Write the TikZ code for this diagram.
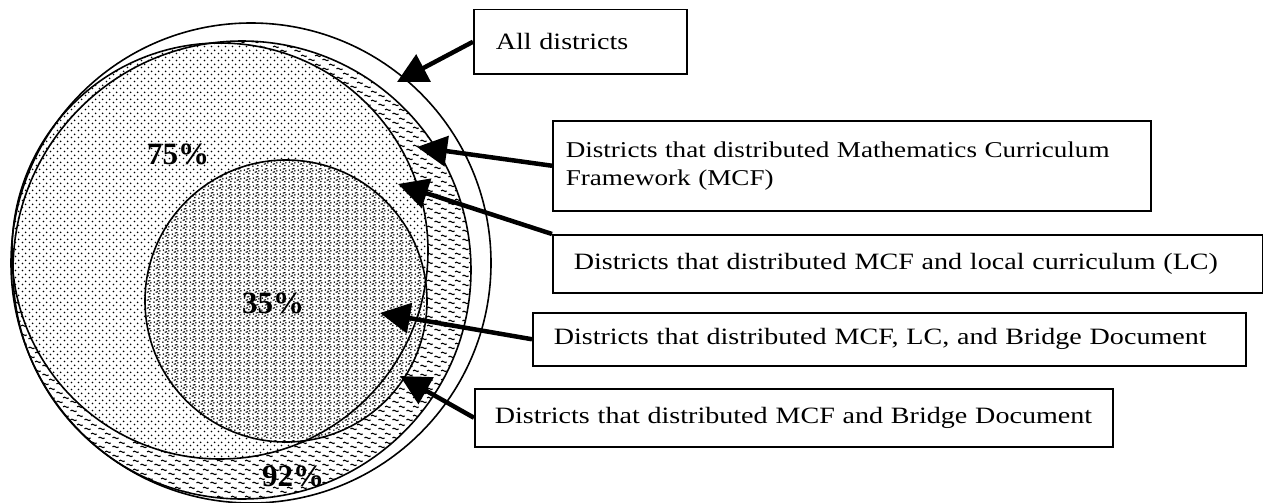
\documentclass[tikz,border=0pt]{standalone}
\usepackage{fontspec}
\setmainfont[FakeStretch=1.2]{Liberation Serif}
\newfontfamily\pctfont{Liberation Serif}
\usetikzlibrary{arrows.meta,patterns.meta}

\tikzdeclarepattern{name=wavelets,type=uncolored,
 bottom left={(0pt,0pt)},top right={(14pt,9pt)},tile size={(14pt,9pt)},
 code={\draw[line width=1.2pt] (.5pt,2.3pt) .. controls (2.5pt,5pt) and (5pt,-.4pt) .. (7pt,2.3pt);
  \draw[line width=1.2pt] (7.5pt,6.8pt) .. controls (9.5pt,9.5pt) and (12pt,4.1pt) .. (13.5pt,6.8pt);}}
\tikzdeclarepattern{name=dotgrid,type=uncolored,
 bottom left={(0pt,0pt)},top right={(7pt,7pt)},tile size={(7pt,7pt)},
 code={\fill (1.75pt,1.75pt) circle (1.05pt); \fill (5.25pt,5.25pt) circle (1.05pt);}}
\tikzdeclarepattern{name=grains,type=uncolored,
 bottom left={(0pt,0pt)},top right={(9pt,8pt)},tile size={(9pt,8pt)},
 code={\fill (1pt,1pt) circle (.95pt); \fill (6.5pt,1.5pt) circle (.9pt);
  \fill (1.5pt,5.5pt) circle (.9pt); \fill (7.6pt,4.6pt) circle (.9pt);
  \draw[line width=1.2pt] (3pt,3pt) -- (5.6pt,3.7pt);
  \draw[line width=1.2pt] (4.2pt,6.6pt) -- (7.2pt,7.2pt);}}

\begin{document}
\begin{tikzpicture}[x=1pt,y=-1pt,font=\fontsize{23.4}{28}\selectfont,
 ring/.style={line width=1.6pt},
 box/.style={draw,line width=1.5pt,anchor=north west,align=left,inner ysep=0pt},
 pct/.style={font=\pctfont\fontsize{31}{34}\selectfont\bfseries},
 callout/.style={line width=4.5pt,-{Triangle[length=30pt,width=30pt]}}]
\useasboundingbox (0,0) rectangle (1263,503);
\coordinate (allc) at (251,263);
\coordinate (mcfc) at (242,270);
\coordinate (lcc) at (220,251);
\coordinate (brc) at (286,301);
% shaded regions
\fill[pattern=wavelets] (mcfc) circle[radius=229pt];
\fill[white] (lcc) circle[radius=208pt];
\fill[pattern=dotgrid] (lcc) circle[radius=208pt];
\fill[white] (brc) circle[radius=141pt];
\fill[pattern=grains] (brc) circle[radius=141pt];
\draw[ring] (allc) circle[radius=240pt];
\draw[ring] (mcfc) circle[radius=229pt];
\draw[ring] (lcc) circle[radius=208pt];
\draw[ring] (brc) circle[radius=141pt];
\node[pct] (p75) at (178,154) {75\%};
\node[pct] (p35) at (273,303) {35\%};
\node[pct] (p92) at (293,476) {92\%};
% labels
\node[box,inner xsep=22pt,text width=169pt,minimum height=64pt] (alld) at (473,9) {All districts};
\node[box,inner xsep=13pt,text width=572pt,minimum height=90pt,font=\fontsize{22.6}{28}\selectfont] (mcf) at (552,120) {Districts that distributed Mathematics Curriculum\\Framework (MCF)};
\node[box,inner xsep=21pt,text width=668pt,minimum height=58pt] (lc) at (552,234) {Districts that distributed MCF and local curriculum (LC)};
\node[box,inner xsep=21pt,text width=671pt,minimum height=53pt] (br) at (532,312) {Districts that distributed MCF, LC, and Bridge Document};
\node[box,inner xsep=20pt,text width=598pt,minimum height=58pt] (mb) at (474,388) {Districts that distributed MCF and Bridge Document};
\coordinate (tipall) at (397,82);
\coordinate (tipmcf) at (417,147);
\coordinate (tiplc) at (398,184);
\coordinate (tipbr) at (380,313);
\coordinate (tipmb) at (400,376);
\draw[callout] (alld.west) -- (tipall);
\draw[callout] (mcf.west) -- (tipmcf);
\draw[callout] (lc.north west) -- (tiplc);
\draw[callout] (br.west) -- (tipbr);
\draw[callout] (mb.west) -- (tipmb);
\end{tikzpicture}
\end{document}
